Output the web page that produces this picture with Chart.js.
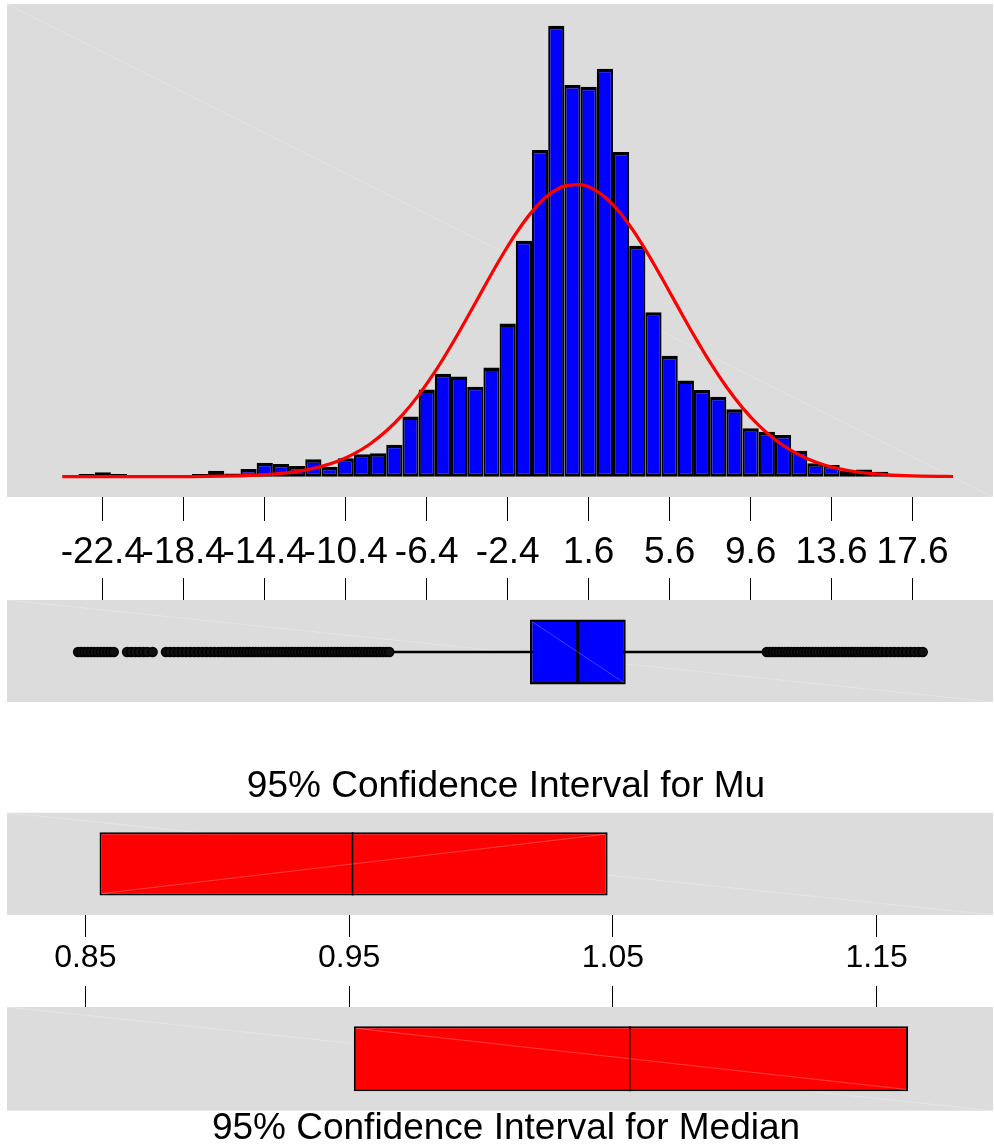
<!DOCTYPE html>
<html>
<head>
<meta charset="utf-8">
<title>Graphical Summary</title>
<script src="https://cdn.jsdelivr.net/npm/chart.js@4.4.1/dist/chart.umd.min.js"></script>
<style>
  html, body { margin: 0; padding: 0; background: #ffffff; overflow: hidden; width: 994px; height: 1145px; }
  .pane { position: absolute; left: 0; }
  .pane canvas { display: block; }
</style>
</head>
<body>
<div class="pane" style="top:0px"><canvas id="histChart" width="994" height="586"></canvas></div>
<div class="pane" style="top:578px"><canvas id="boxChart" width="994" height="124"></canvas></div>
<div class="pane" style="top:760px"><canvas id="muChart" width="1012" height="220"></canvas></div>
<div class="pane" style="top:986px"><canvas id="medianChart" width="1012" height="162"></canvas></div>
<script>
// ---- data ----
// histogram: bin centres (bin width 0.8) and frequencies
const binCenters = [-24.0, -23.2, -22.4, -21.6, -20.8, -20.0, -19.2, -18.4, -17.6, -16.8,
  -16.0, -15.2, -14.4, -13.6, -12.8, -12.0, -11.2, -10.4, -9.6, -8.8,
  -8.0, -7.2, -6.4, -5.6, -4.8, -4.0, -3.2, -2.4, -1.6, -0.8,
  0.0, 0.8, 1.6, 2.4, 3.2, 4.0, 4.8, 5.6, 6.4, 7.2,
  8.0, 8.8, 9.6, 10.4, 11.2, 12.0, 12.8, 13.6, 14.4, 15.2,
  16.0, 16.8, 17.6, 18.4, 19.2];
const binCounts = [3, 6, 10, 6, 3, 3, 3, 3, 6, 13,
  7, 17, 31, 28, 24, 39, 22, 41, 50, 52,
  71, 134, 194, 229, 223, 200, 243, 341, 525, 727,
  1004, 872, 868, 908, 723, 514, 366, 269, 214, 193,
  178, 150, 108, 100, 93, 58, 30, 26, 13, 16,
  11, 6, 4, 4, 4];

// fitted normal curve, sampled at the bin edges
const curveX = [-24.4, -23.6, -22.8, -22.0, -21.2, -20.4, -19.6, -18.8, -18.0, -17.2,
  -16.4, -15.6, -14.8, -14.0, -13.2, -12.4, -11.6, -10.8, -10.0, -9.2,
  -8.4, -7.6, -6.8, -6.0, -5.2, -4.4, -3.6, -2.8, -2.0, -1.2,
  -0.4, 0.4, 1.2, 2.0, 2.8, 3.6, 4.4, 5.2, 6.0, 6.8,
  7.6, 8.4, 9.2, 10.0, 10.8, 11.6, 12.4, 13.2, 14.0, 14.8,
  15.6, 16.4, 17.2, 18.0, 18.8, 19.6];
const curveY = [0, 0, 0, 0, 0, 0, 0.1, 0.2, 0.3, 0.6,
  1.1, 1.9, 3.3, 5.6, 9.2, 14.7, 22.9, 34.6, 50.9, 72.9,
  101.6, 137.6, 181.6, 233.1, 291.4, 354.3, 419.2, 482.8, 541.0, 590.1,
  626.3, 646.8, 650.1, 635.9, 605.3, 560.7, 505.5, 443.4, 378.6, 314.5,
  254.3, 200.1, 153.2, 114.2, 82.8, 58.4, 40.1, 26.8, 17.4, 11.0,
  6.8, 4.1, 2.4, 1.3, 0.7, 0.4];

const histTicks = [-22.4, -18.4, -14.4, -10.4, -6.4, -2.4, 1.6, 5.6, 9.6, 13.6, 17.6];
const histTickLabels = ['-22.4', '-18.4', '-14.4', '-10.4', '-6.4', '-2.4', '1.6', '5.6', '9.6', '13.6', '17.6'];

// box plot summary
const boxQ1 = -1.30;
const boxMedian = 1.056;
const boxQ3 = 3.43;
const whiskerLow = -8.2;
const whiskerHigh = 10.25;
const outliersLow = [-23.62, -23.46, -23.3, -23.14, -22.98, -22.82, -22.66, -22.5, -22.34, -22.18, -22.02, -21.86,
  -21.2, -21.0, -20.8, -20.6, -20.4, -20.2, -19.94,
  -19.28, -19.08, -18.88, -18.68, -18.48, -18.28, -18.08, -17.88, -17.68, -17.48, -17.28, -17.08, -16.88, -16.68,
  -16.5, -16.35, -16.2, -16.05, -15.9, -15.75, -15.6, -15.45, -15.3, -15.15, -15.0, -14.85, -14.7, -14.55,
  -14.4, -14.25, -14.1, -13.95, -13.8, -13.65, -13.5, -13.35, -13.2, -13.05, -12.9, -12.75, -12.6, -12.45,
  -12.3, -12.15, -12.0, -11.85, -11.7, -11.55, -11.4, -11.25, -11.1, -10.95, -10.8, -10.65, -10.5, -10.35,
  -10.2, -10.05, -9.9, -9.75, -9.6, -9.45, -9.3, -9.15, -9.0, -8.85, -8.7, -8.55, -8.4, -8.25];
const outliersHigh = [10.4, 10.55, 10.7, 10.85, 11.0, 11.15, 11.3, 11.45, 11.6, 11.75, 11.9, 12.05, 12.2,
  12.35, 12.5, 12.65, 12.8, 12.95, 13.1, 13.25, 13.4, 13.55, 13.7, 13.85, 14.0, 14.15, 14.3, 14.45,
  14.6, 14.75, 14.9, 15.05, 15.2, 15.35, 15.5, 15.65, 15.8, 15.95, 16.1,
  16.3, 16.5, 16.7, 16.9, 17.1, 17.3, 17.5, 17.7, 17.9, 18.1];

// confidence intervals
const muInterval = [0.8554, 1.0480];
const muMean = 0.9513;
const medianInterval = [0.9518, 1.1619];
const medianValue = 1.0564;
const ciTicks = [0.85, 0.95, 1.05, 1.15];
const ciTickLabels = ['0.85', '0.95', '1.05', '1.15'];

// ---- styling ----
const PANEL_GREY = '#DCDCDC';
const FONT = "'Liberation Sans', Arial, Helvetica, sans-serif";
Chart.defaults.font.family = FONT;
Chart.defaults.color = '#000000';

// grey plotting panel with its faint seam, plus seams across the interval boxes
const panelBackdrop = {
  id: 'panelBackdrop',
  beforeDraw(chart) {
    const { ctx, chartArea: a } = chart;
    ctx.save();
    ctx.fillStyle = PANEL_GREY;
    ctx.fillRect(a.left, a.top, a.right - a.left, a.bottom - a.top);
    ctx.strokeStyle = 'rgba(255,255,255,0.25)';
    ctx.lineWidth = 1;
    ctx.beginPath();
    ctx.moveTo(a.left, a.top);
    ctx.lineTo(a.right, a.bottom);
    ctx.stroke();
    ctx.restore();
  },
  afterDatasetsDraw(chart) {
    const ctx = chart.ctx;
    chart.data.datasets.forEach((ds, i) => {
      if (!ds.seam) return;
      chart.getDatasetMeta(i).data.forEach(el => {
        const p = el.getProps(['x', 'y', 'base', 'height'], true);
        const l = Math.min(p.x, p.base) + 2, r = Math.max(p.x, p.base) - 2;
        const t = p.y - p.height / 2 + 2, b = p.y + p.height / 2 - 2;
        ctx.save();
        ctx.strokeStyle = 'rgba(255,255,255,0.25)';
        ctx.lineWidth = 1;
        ctx.beginPath();
        if (ds.seam === 'down') { ctx.moveTo(l, t); ctx.lineTo(r, b); }
        else { ctx.moveTo(l, b); ctx.lineTo(r, t); }
        ctx.stroke();
        ctx.restore();
      });
    });
  }
};

function tickAxis(opts) {
  return {
    type: 'linear',
    position: opts.position,
    min: opts.min,
    max: opts.max,
    offset: false,
    grid: { display: true, drawOnChartArea: false, drawTicks: true, tickLength: opts.tickLength,
            color: '#000000', lineWidth: 1, offset: false },
    border: { display: false },
    afterBuildTicks: s => { s.ticks = opts.values.map(v => ({ value: v })); },
    ticks: {
      display: opts.labels !== null,
      autoSkip: false, maxRotation: 0, minRotation: 0,
      padding: opts.padding || 0,
      font: { size: opts.fontSize || 12, weight: 'normal' },
      color: '#000000',
      callback: (v, i) => (opts.labels ? opts.labels[i] : '')
    }
  };
}

const baseOptions = {
  responsive: false,
  animation: false,
  devicePixelRatio: 1,
  events: [],
};

// ---- histogram with fitted normal curve ----
new Chart(document.getElementById('histChart'), {
  type: 'scatter',
  data: {
    datasets: [
      {
        type: 'line',
        data: curveX.map((x, i) => ({ x, y: curveY[i] })),
        borderColor: '#FF0000',
        borderWidth: 3.2,
        pointRadius: 0,
        fill: false,
        cubicInterpolationMode: 'monotone',
        order: 0
      },
      {
        type: 'bar',
        data: binCenters.map((x, i) => ({ x, y: binCounts[i] })),
        backgroundColor: '#0000FF',
        borderColor: '#000000',
        borderWidth: { top: 3.5, bottom: 3, left: 2.2, right: 2.2 },
        borderSkipped: false,
        inflateAmount: 0,
        barPercentage: 1,
        categoryPercentage: 1,
        order: 1
      }
    ]
  },
  options: Object.assign({}, baseOptions, {
    layout: { autoPadding: false, padding: { left: 7, right: 1, top: 4, bottom: 0.6 } },
    plugins: { legend: { display: false }, tooltip: { enabled: false }, title: { display: false } },
    scales: {
      x: tickAxis({ position: 'bottom', min: -27.132, max: 21.571, tickLength: 24,
                    values: histTicks, labels: histTickLabels, padding: 10, fontSize: 37 }),
      y: { type: 'linear', display: false, min: -45.2, max: 1052.2 }
    }
  }),
  plugins: [panelBackdrop]
});

// ---- box plot ----
new Chart(document.getElementById('boxChart'), {
  type: 'scatter',
  data: {
    datasets: [
      {
        type: 'scatter',
        data: outliersLow.concat(outliersHigh).map(x => ({ x, y: 0 })),
        pointStyle: 'circle',
        pointRadius: 4.5,
        pointBorderWidth: 1.5,
        pointBorderColor: '#000000',
        pointBackgroundColor: '#111111',
        order: 0
      },
      {
        type: 'scatter',
        data: [{ x: boxMedian, y: 0 }],
        pointStyle: 'line',
        pointRotation: 90,
        pointRadius: 32,
        pointBorderWidth: 3,
        pointBorderColor: '#000000',
        order: 1
      },
      {
        type: 'bar',
        indexAxis: 'y',
        data: [{ x: [boxQ1, boxQ3], y: 0 }],
        barThickness: 65,
        backgroundColor: '#0000FF',
        borderColor: '#000000',
        borderWidth: 2.5,
        borderSkipped: false,
        inflateAmount: 0,
        seam: 'down',
        order: 2
      },
      {
        type: 'line',
        data: [{ x: whiskerLow, y: 0 }, { x: whiskerHigh, y: 0 }],
        borderColor: '#000000',
        borderWidth: 2.5,
        pointRadius: 0,
        order: 3
      }
    ]
  },
  options: Object.assign({}, baseOptions, {
    layout: { autoPadding: false, padding: { left: 7, right: 1, top: 0, bottom: 0 } },
    plugins: { legend: { display: false }, tooltip: { enabled: false }, title: { display: false } },
    scales: {
      x: tickAxis({ position: 'top', min: -27.132, max: 21.571, tickLength: 22,
                    values: histTicks, labels: null }),
      y: { type: 'linear', display: false, min: -0.95, max: 1 }
    }
  }),
  plugins: [panelBackdrop]
});

// ---- confidence intervals ----
function intervalChart(canvasId, interval, centre, title, titlePos, axisPos, thickness, seam, pads) {
  return new Chart(document.getElementById(canvasId), {
    type: 'scatter',
    data: {
      datasets: [
        {
          type: 'scatter',
          data: [{ x: centre, y: 0 }],
          pointStyle: 'line',
          pointRotation: 90,
          pointRadius: thickness / 2,
          pointBorderWidth: 1.5,
          pointBorderColor: '#000000',
          order: 0
        },
        {
          type: 'bar',
          indexAxis: 'y',
          data: [{ x: interval, y: 0 }],
          barThickness: thickness,
          backgroundColor: '#FF0000',
          borderColor: '#000000',
          borderWidth: 2,
          borderSkipped: false,
          inflateAmount: 0,
          seam: seam,
          order: 1
        }
      ]
    },
    options: Object.assign({}, baseOptions, {
      layout: { autoPadding: false, padding: pads.layout },
      plugins: {
        legend: { display: false },
        tooltip: { enabled: false },
        title: {
          display: true,
          text: title,
          position: titlePos,
          color: '#000000',
          font: { size: 37, weight: 'normal', lineHeight: 1 },
          padding: pads.title
        }
      },
      scales: {
        x: axisPos === 'bottom'
          ? tickAxis({ position: 'bottom', min: 0.82032, max: 1.19409, tickLength: 22,
                       values: ciTicks, labels: ciTickLabels, padding: 1.8, fontSize: 32 })
          : tickAxis({ position: 'top', min: 0.82032, max: 1.19409, tickLength: 21,
                       values: ciTicks, labels: null }),
        y: {
          type: 'linear', position: 'right', min: -1, max: 1, display: true,
          grid: { display: false }, ticks: { display: false }, border: { display: false },
          afterFit: s => { s.width = 12; }
        }
      }
    }),
    plugins: [panelBackdrop]
  });
}

intervalChart('muChart', muInterval, muMean, '95% Confidence Interval for Mu', 'top', 'bottom', 63.3, 'up',
  { layout: { left: 7, right: 7, top: 0, bottom: 1.0 }, title: { top: 8.5, bottom: 7.2 } });
intervalChart('medianChart', medianInterval, medianValue, '95% Confidence Interval for Median', 'bottom', 'top', 65, 'down',
  { layout: { left: 7, right: 7, top: 0, bottom: 0.3 }, title: { top: 0, bottom: 0 } });
</script>
</body>
</html>
